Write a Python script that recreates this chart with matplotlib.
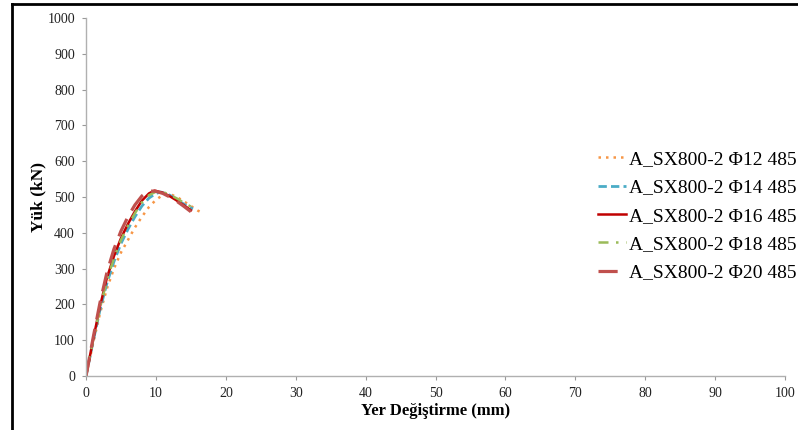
import matplotlib
matplotlib.use("Agg")
import matplotlib.pyplot as plt
from matplotlib.lines import Line2D

plt.rcParams['font.family'] = ['Liberation Serif', 'DejaVu Serif']

# Load-displacement curves (displacement in mm, load in kN)
x_d12 = [0, 1, 2, 3, 4, 5, 6, 7, 8, 9, 10, 11, 11.8, 13, 14, 15, 16, 16.8]
y_d12 = [0, 90, 175, 245, 300, 345, 380, 415, 445, 472, 492, 506, 510, 500, 488, 475, 462, 454]

x_d14 = [0, 1, 2, 3, 4, 5, 6, 7, 8, 9, 10, 10.7, 12, 13, 14, 15.3]
y_d14 = [0, 95, 185, 260, 320, 370, 410, 445, 475, 497, 510, 514, 505, 493, 480, 467]

x_d16 = [0, 1, 2, 3, 4, 5, 6, 7, 8, 9, 9.8, 11, 12, 13, 14, 15]
y_d16 = [0, 100, 195, 275, 335, 385, 425, 460, 490, 510, 518, 512, 502, 490, 477, 463]

x_d18 = [0, 1, 2, 3, 4, 5, 6, 7, 8, 9, 10, 11, 12, 13, 14, 15.3]
y_d18 = [0, 98, 190, 268, 330, 380, 420, 455, 485, 505, 515, 514, 506, 496, 484, 470]

x_d20 = [0, 1, 2, 3, 4, 5, 6, 7, 8, 8.9, 10, 11, 12, 13, 14, 15]
y_d20 = [0, 105, 205, 290, 355, 405, 445, 478, 503, 517, 516, 510, 500, 488, 474, 459]

labels = ["A_SX800-2 Φ12 485", "A_SX800-2 Φ14 485", "A_SX800-2 Φ16 485",
          "A_SX800-2 Φ18 485", "A_SX800-2 Φ20 485"]

x_ticks = list(range(0, 101, 10))
y_ticks = list(range(0, 1001, 100))

fig = plt.figure(figsize=(7.98, 4.30), dpi=100)
ax = fig.add_axes([0.1078, 0.1256, 0.8759, 0.8324])

ax.plot(x_d12, y_d12, color="#F79646", lw=1.8, ls=(0, (1, 2)), label=labels[0])
ax.plot(x_d14, y_d14, color="#4BACC6", lw=2.0, ls=(0, (3, 1.5)), label=labels[1])
ax.plot(x_d16, y_d16, color="#C00000", lw=1.8, ls="-", label=labels[2])
ax.plot(x_d18, y_d18, color="#9BBB59", lw=1.8, ls=(0, (4, 3, 1, 3)), label=labels[3])
ax.plot(x_d20, y_d20, color="#C0504D", lw=2.3, ls=(0, (6, 3)), label=labels[4])

ax.set_xlim(0, 100)
ax.set_ylim(0, 1000)
ax.set_xticks(x_ticks)
ax.set_yticks(y_ticks)
ax.tick_params(axis="both", labelsize=10, colors="#999999", length=3,
               width=0.8, direction="out", pad=5)
for t in ax.get_xticklabels() + ax.get_yticklabels():
    t.set_color("#222222")
for side in ("top", "right"):
    ax.spines[side].set_visible(False)
for side in ("left", "bottom"):
    ax.spines[side].set_color("#B0B0B0")
    ax.spines[side].set_linewidth(1.0)

ax.set_xlabel("Yer Değiştirme (mm)", fontsize=12, fontweight="bold", labelpad=2)
ax.set_ylabel("Yük (kN)", fontsize=12.5, fontweight="bold", labelpad=1)

leg = ax.legend(loc="center left", bbox_to_anchor=(0.732, 0.447), frameon=False,
                fontsize=14, handlelength=1.45, handletextpad=0.15,
                labelspacing=0.55, borderaxespad=0, borderpad=0)

# Outer frame lines
fig.add_artist(Line2D([0.0146, 0.0146], [0.0, 0.991], color="black", lw=2,
                      transform=fig.transFigure))
fig.add_artist(Line2D([0.0146, 1.0], [0.991, 0.991], color="black", lw=2,
                      transform=fig.transFigure))

fig.savefig("out.png", dpi=100)
